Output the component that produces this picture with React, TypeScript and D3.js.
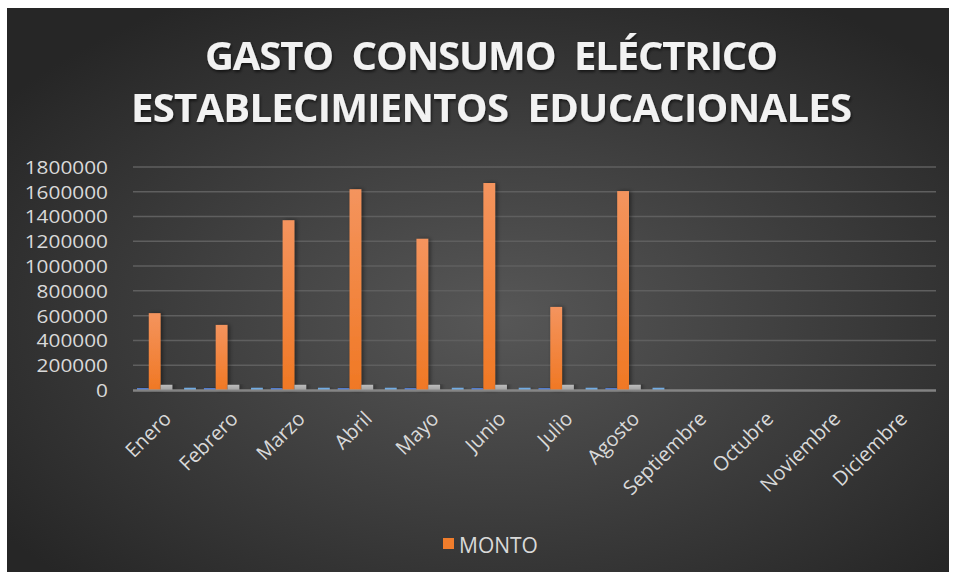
import { useEffect, useRef } from 'react';
import * as d3 from 'd3';

const meses = ['Enero', 'Febrero', 'Marzo', 'Abril', 'Mayo', 'Junio', 'Julio', 'Agosto', 'Septiembre', 'Octubre', 'Noviembre', 'Diciembre'];
const serieAzul = [16000, 16000, 16000, 16000, 16000, 16000, 16000, 16000, 0, 0, 0, 0];
const monto = [620000, 525000, 1370000, 1620000, 1220000, 1670000, 670000, 1605000, 0, 0, 0, 0];
const serieGris = [42000, 42000, 42000, 42000, 42000, 42000, 42000, 42000, 0, 0, 0, 0];
const serieAmarilla = [0, 0, 0, 0, 0, 0, 0, 0, 0, 0, 0, 0];
const serieCeleste = [18000, 18000, 18000, 18000, 18000, 18000, 18000, 18000, 0, 0, 0, 0];
const yTicks = [0, 200000, 400000, 600000, 800000, 1000000, 1200000, 1400000, 1600000, 1800000];

const W = 959;
const H = 580;

export default function App() {
  const svgRef = useRef<SVGSVGElement>(null);

  useEffect(() => {
    const svg = d3.select(svgRef.current);
    svg.selectAll('*').remove();

    const series = [
      { key: 'azul', values: serieAzul, top: '#5b86d6', bottom: '#3a66bf' },
      { key: 'monto', values: monto, top: '#f4945e', bottom: '#f07824' },
      { key: 'gris', values: serieGris, top: '#bdbdbd', bottom: '#a2a2a2' },
      { key: 'amarilla', values: serieAmarilla, top: '#ffc000', bottom: '#e5ac00' },
      { key: 'celeste', values: serieCeleste, top: '#7cb4ea', bottom: '#5b9bd5' },
    ];

    const plot = { left: 133, right: 936, top: 166.9, bottom: 390 };

    const defs = svg.append('defs');
    const bg = defs.append('radialGradient')
      .attr('id', 'bg')
      .attr('cx', '52%')
      .attr('cy', '55%')
      .attr('r', '65%');
    bg.append('stop').attr('offset', '0%').attr('stop-color', '#575757');
    bg.append('stop').attr('offset', '100%').attr('stop-color', '#262626');

    series.forEach(s => {
      const g = defs.append('linearGradient')
        .attr('id', `grad-${s.key}`)
        .attr('x1', '0%').attr('y1', '0%').attr('x2', '0%').attr('y2', '100%');
      g.append('stop').attr('offset', '0%').attr('stop-color', s.top);
      g.append('stop').attr('offset', '100%').attr('stop-color', s.bottom);
    });

    const shadow = defs.append('filter').attr('id', 'shadow')
      .attr('x', '-50%').attr('y', '-10%').attr('width', '200%').attr('height', '120%');
    shadow.append('feDropShadow')
      .attr('dx', 2).attr('dy', 0).attr('stdDeviation', 2)
      .attr('flood-color', '#000').attr('flood-opacity', 0.45);

    const tshadow = defs.append('filter').attr('id', 'tshadow');
    tshadow.append('feDropShadow')
      .attr('dx', 1).attr('dy', 2).attr('stdDeviation', 1.5)
      .attr('flood-color', '#000').attr('flood-opacity', 0.6);

    // fondo
    svg.append('rect').attr('width', W).attr('height', H).attr('fill', '#ffffff');
    svg.append('rect')
      .attr('x', 7).attr('y', 8).attr('width', 942).attr('height', 564)
      .attr('fill', 'url(#bg)');

    // titulo
    const title = svg.append('text')
      .attr('text-anchor', 'middle')
      .attr('fill', '#f2f2f2')
      .attr('font-family', '"Open Sans", sans-serif')
      .attr('font-weight', 'bold')
      .attr('font-size', 40)
      .attr('filter', 'url(#tshadow)')
      .style('white-space', 'pre');
    title.append('tspan').attr('x', 491.5).attr('y', 70)
      .attr('textLength', 573).attr('lengthAdjust', 'spacing')
      .text('GASTO  CONSUMO  ELÉCTRICO');
    title.append('tspan').attr('x', 491.5).attr('y', 122)
      .attr('textLength', 721).attr('lengthAdjust', 'spacing')
      .text('ESTABLECIMIENTOS  EDUCACIONALES');

    const x = d3.scaleBand().domain(meses).range([plot.left, plot.right]).paddingInner(0).paddingOuter(0);
    const xs = d3.scaleBand().domain(series.map(s => s.key)).range([0, x.bandwidth()]).paddingInner(0).paddingOuter(0.34);
    const y = d3.scaleLinear().domain([0, 1800000]).range([plot.bottom, plot.top]);

    // grid
    svg.append('g').selectAll('line')
      .data(yTicks.filter(t => t > 0))
      .enter().append('line')
      .attr('x1', plot.left).attr('x2', plot.right)
      .attr('y1', d => y(d)).attr('y2', d => y(d))
      .attr('stroke', '#5f5f5f').attr('stroke-width', 1.5);

    // y labels
    svg.append('g').selectAll('text')
      .data(yTicks)
      .enter().append('text')
      .attr('x', 108).attr('y', d => y(d) + 7)
      .attr('text-anchor', 'end')
      .attr('fill', '#d9d9d9')
      .attr('font-family', '"Open Sans", sans-serif')
      .attr('font-size', 18)
      .attr('textLength', d => String(d).length * 11.9)
      .attr('lengthAdjust', 'spacingAndGlyphs')
      .text(d => String(d));

    // barras
    series.forEach(s => {
      svg.append('g')
        .attr('filter', 'url(#shadow)')
        .selectAll('rect')
        .data(meses.map((m, i) => ({ m, v: s.values[i] })).filter(d => d.v > 0))
        .enter().append('rect')
        .attr('x', d => x(d.m)! + xs(s.key)!)
        .attr('width', xs.bandwidth())
        .attr('y', d => y(d.v))
        .attr('height', d => plot.bottom - y(d.v))
        .attr('fill', `url(#grad-${s.key})`);
    });

    // eje x
    svg.append('line')
      .attr('x1', plot.left).attr('x2', plot.right)
      .attr('y1', plot.bottom + 0.5).attr('y2', plot.bottom + 0.5)
      .attr('stroke', '#909090').attr('stroke-width', 2.5).attr('stroke-opacity', 0.85);

    // x labels
    svg.append('g').selectAll('text')
      .data(meses)
      .enter().append('text')
      .attr('transform', d => `translate(${x(d)! + x.bandwidth() / 2 + 6},${plot.bottom + 30}) rotate(-45)`)
      .attr('text-anchor', 'end')
      .attr('fill', '#d9d9d9')
      .attr('font-family', '"Open Sans", sans-serif')
      .attr('font-size', 20)
      .text(d => d);

    // leyenda
    svg.append('rect')
      .attr('x', 443).attr('y', 538).attr('width', 11).attr('height', 11)
      .attr('fill', '#f07d2c');
    svg.append('text')
      .attr('x', 459).attr('y', 553)
      .attr('fill', '#d9d9d9')
      .attr('font-family', '"Open Sans", sans-serif')
      .attr('font-size', 21)
      .text('MONTO');
  }, []);

  return (
    <svg
      ref={svgRef}
      width={W}
      height={H}
      style={{ position: 'absolute', left: 0, top: 0, display: 'block' }}
    />
  );
}
